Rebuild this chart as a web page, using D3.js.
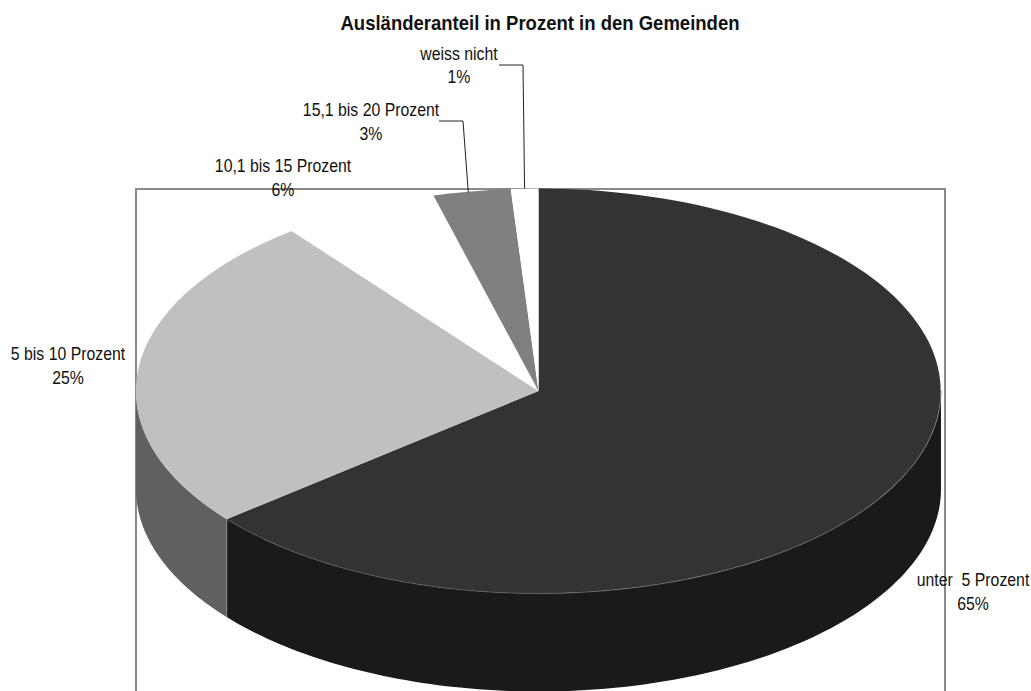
<!DOCTYPE html>
<html><head><meta charset="utf-8">
<script src="https://cdnjs.cloudflare.com/ajax/libs/d3/7.8.5/d3.min.js"></script>
<style>html,body{margin:0;padding:0;background:#fff}svg{display:block}text{font-family:"Liberation Sans",Arial,sans-serif;fill:#111;white-space:pre}</style>
</head><body><svg id="c" width="1031" height="691"></svg>
<script>
const title = "Ausländeranteil in Prozent in den Gemeinden";
const categories = ["unter  5 Prozent","5 bis 10 Prozent","10,1 bis 15 Prozent","15,1 bis 20 Prozent","weiss nicht"];
const shares = [64.1,25.4,6.3,3.1,1.1];
const percentLabels = ["65%","25%","6%","3%","1%"];
const topColors = ["#333333","#c0c0c0","#ffffff","#808080","#ffffff"];
const sideColors = ["#1a1a1a","#606060","#ffffff","#808080","#ffffff"];

const W=1031,H=691,cx=538.5,cy=391,rx=402.5,ry=202.5,depth=98;
const svg=d3.select("#c");
svg.attr("viewBox",`0 0 ${W} ${H}`);
svg.append("text").attr("transform","translate(540,30) scale(0.95,1)").attr("text-anchor","middle")
  .attr("font-size",19.5).attr("font-weight","bold").text(title);

// frame (open past the bottom of the picture)
svg.append("rect").attr("x",136).attr("y",189).attr("width",809).attr("height",530)
  .attr("fill","none").attr("stroke","#8a8a8a").attr("stroke-width",2);

const arcs=d3.pie().sort(null).value(d=>d)(shares);
const px=a=>cx+rx*Math.sin(a), py=a=>cy-ry*Math.cos(a);

// side walls: only the part of each slice on the front half
const wall=d3.area().x(a=>px(a)).y0(a=>py(a)).y1(a=>py(a)+depth);
const front=[Math.PI/2,Math.PI*1.5];
arcs.forEach((s,i)=>{
  const a0=Math.max(s.startAngle,front[0]),a1=Math.min(s.endAngle,front[1]);
  if(a1<=a0)return;
  svg.append("path").attr("d",wall(d3.range(0,121).map(k=>a0+(a1-a0)*k/120)))
    .attr("fill",sideColors[i]);
});
// vertical seam between side walls
svg.append("line").attr("x1",px(arcs[0].endAngle)).attr("x2",px(arcs[0].endAngle))
  .attr("y1",py(arcs[0].endAngle)).attr("y2",py(arcs[0].endAngle)+depth)
  .attr("stroke","#8c8c8c").attr("stroke-width",0.8);

// top face
const arc=d3.arc().innerRadius(0).outerRadius(1);
const g=svg.append("g").attr("transform",`translate(${cx},${cy}) scale(${rx},${ry})`);
g.selectAll("path").data(arcs).join("path").attr("d",arc)
  .attr("fill",(d,i)=>topColors[i]);
// thin seam at the rim of the dark slice
const rim=d3.line().x(a=>px(a)).y(a=>py(a));
svg.append("path").attr("d",rim(d3.range(0,121).map(k=>Math.PI/2+(arcs[0].endAngle-Math.PI/2)*k/120)))
  .attr("fill","none").attr("stroke","#666").attr("stroke-width",0.7);

// labels
const labelPos=[[973,586,24],[68,360,24],[283,172,24],[371,116,24],[459,60,23]];
categories.forEach((c,i)=>{
  const [x,y,dy]=labelPos[i];
  [[c,0],[percentLabels[i],dy]].forEach(([s,o])=>{
    svg.append("text").attr("text-anchor","middle").attr("font-size",17.5)
      .attr("transform",`translate(${x},${y+o}) scale(0.905,1)`).text(s);
  });
});

// leader lines, ending on the slice they belong to
const leader=d3.line();
[[3,[[439,121],[463,121]],0.45,0.995],[4,[[499,65],[523,65]],0.5,1]].forEach(([i,pts,t,k])=>{
  const a=arcs[i].startAngle+(arcs[i].endAngle-arcs[i].startAngle)*t;
  svg.append("path").attr("d",leader([...pts,[cx+k*rx*Math.sin(a),cy-k*ry*Math.cos(a)]]))
    .attr("fill","none").attr("stroke","#222").attr("stroke-width",1);
});
</script></body></html>
